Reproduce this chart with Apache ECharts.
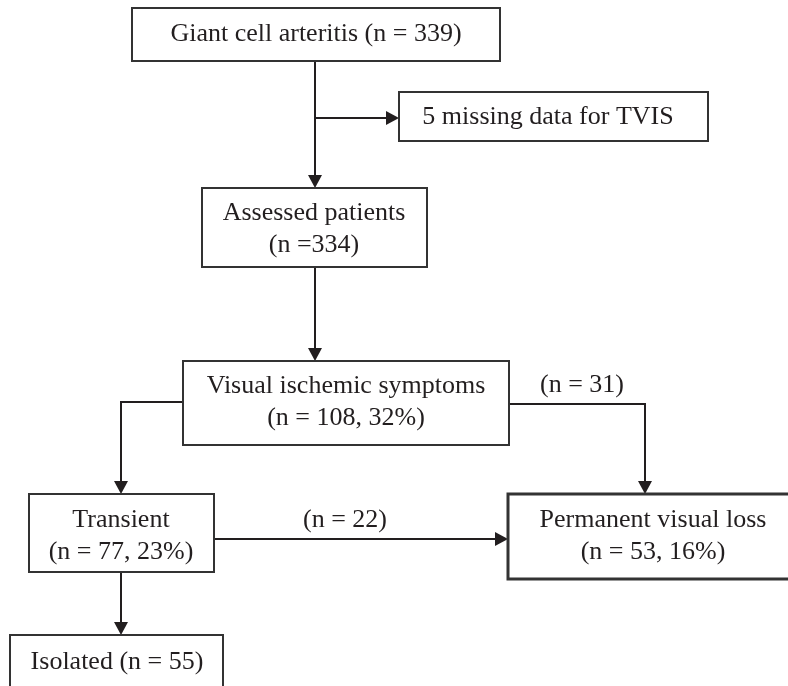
<!DOCTYPE html>
<html><head><meta charset="utf-8">
<script src="https://cdn.jsdelivr.net/npm/echarts@6/dist/echarts.min.js"></script>
<style>html,body{margin:0;padding:0;background:#fff}#c{width:788px;height:686px}</style>
</head><body><div id="c"></div>
<script>
// ---- content ----
const nodeLabels = [
  'Giant cell arteritis (n = 339)',
  '5 missing data for TVIS',
  'Assessed patients\n(n =334)',
  'Visual ischemic symptoms\n(n = 108, 32%)',
  'Transient\n(n = 77, 23%)',
  'Permanent visual loss\n(n = 53, 16%)',
  'Isolated (n = 55)'
];
const nodeCounts = [339, 5, 334, 108, 77, 53, 55];
const edgeLabels = ['(n = 31)', '(n = 22)'];
const edgeCounts = [31, 22];

// ---- layout (chart coordinates) ----
const boxLeft   = [132, 399, 202, 183,  29, 508,  10];
const boxTop    = [  8,  92, 188, 361, 494, 494, 635];
const boxRight  = [500, 708, 427, 509, 214, 800, 223];
const boxBottom = [ 61, 141, 267, 445, 572, 579, 700];
const textX     = [316, 548, 314, 346, 121, 653, 117];
const textY     = [ 34, 117, 229, 402, 536, 536, 662];
const boxLineW  = [  2,   2,   2,   2,   2,   3,   2];

const edgePaths = [
  [[315, 61], [315, 188]],
  [[315, 118], [399, 118]],
  [[315, 267], [315, 361]],
  [[183, 402], [121, 402], [121, 494]],
  [[509, 404], [645, 404], [645, 494]],
  [[214, 539], [508, 539]],
  [[121, 572], [121, 635]]
];
const edgeLabelX = [582, 345];
const edgeLabelY = [385, 520];

const INK = '#221e1f';
const FONT = '"Liberation Serif", "Times New Roman", serif';

const chart = echarts.init(document.getElementById('c'), null, {renderer: 'canvas'});
chart.setOption({
  animation: false,
  backgroundColor: '#fff',
  grid: {left: 0, right: 0, top: 0, bottom: 0},
  xAxis: {type: 'value', min: 0, max: 788, show: false},
  yAxis: {type: 'value', min: 0, max: 686, inverse: true, show: false},
  series: [
    {
      type: 'custom',
      coordinateSystem: 'cartesian2d',
      clip: false,
      data: edgePaths.map((p, i) => [p[0][0], p[0][1], i]),
      encode: {x: 0, y: 1},
      renderItem: function (params, api) {
        const i = api.value(2);
        const pts = edgePaths[i].map(p => api.coord(p));
        const n = pts.length;
        const tip = pts[n - 1], prev = pts[n - 2];
        const dx = tip[0] - prev[0], dy = tip[1] - prev[1];
        const len = Math.sqrt(dx * dx + dy * dy);
        const ux = dx / len, uy = dy / len;
        const aL = 13, aW = 7;
        const base = [tip[0] - ux * aL, tip[1] - uy * aL];
        const linePts = pts.slice(0, n - 1).concat([base]);
        return {
          type: 'group',
          children: [
            {type: 'polyline', shape: {points: linePts},
             style: {stroke: INK, lineWidth: 2, fill: null}},
            {type: 'polygon', shape: {points: [
              tip,
              [base[0] - uy * aW, base[1] + ux * aW],
              [base[0] + uy * aW, base[1] - ux * aW]
            ]}, style: {fill: INK}}
          ]
        };
      }
    },
    {
      type: 'custom',
      coordinateSystem: 'cartesian2d',
      clip: false,
      data: nodeLabels.map((t, i) => [boxLeft[i], boxTop[i], i, nodeCounts[i]]),
      encode: {x: 0, y: 1},
      renderItem: function (params, api) {
        const i = api.value(2);
        const p0 = api.coord([boxLeft[i], boxTop[i]]);
        const p1 = api.coord([boxRight[i], boxBottom[i]]);
        const c = api.coord([textX[i], textY[i]]);
        return {
          type: 'group',
          children: [
            {type: 'rect', shape: {x: p0[0], y: p0[1], width: p1[0] - p0[0], height: p1[1] - p0[1]},
             style: {fill: '#fff', stroke: '#333', lineWidth: boxLineW[i]}},
            {type: 'text', x: c[0], y: c[1],
             style: {text: nodeLabels[i], fill: INK, font: '26px ' + FONT,
                     align: 'center', verticalAlign: 'middle', lineHeight: 32}}
          ]
        };
      }
    },
    {
      type: 'custom',
      coordinateSystem: 'cartesian2d',
      clip: false,
      data: edgeLabels.map((t, i) => [edgeLabelX[i], edgeLabelY[i], i, edgeCounts[i]]),
      encode: {x: 0, y: 1},
      renderItem: function (params, api) {
        const i = api.value(2);
        const c = api.coord([api.value(0), api.value(1)]);
        return {type: 'text', x: c[0], y: c[1],
          style: {text: edgeLabels[i], fill: INK, font: '26px ' + FONT,
                  align: 'center', verticalAlign: 'middle'}};
      }
    }
  ]
});
</script>
</body></html>
